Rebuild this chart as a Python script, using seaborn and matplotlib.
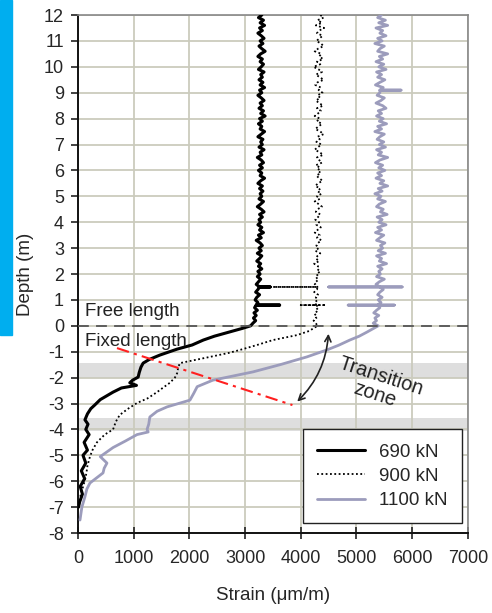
import numpy as np
import pandas as pd
import matplotlib
matplotlib.use('Agg')
import matplotlib.pyplot as plt
import seaborn as sns
from matplotlib.patches import FancyArrowPatch, Rectangle

# Depth sampling for the free length part (12 m down to 0.1 m)
depth_upper = np.round(np.arange(12.0, 0.05, -0.1), 2)

# 690 kN, free length
s690_upper = [3300, 3240, 3330, 3270, 3350, 3260, 3310, 3230, 3290, 3340,
              3270, 3320, 3250, 3300, 3360, 3280, 3230, 3310, 3270, 3330,
              3290, 3240, 3340, 3280, 3310, 3250, 3320, 3270, 3350, 3260,
              3300, 3230, 3290, 3340, 3270, 3310, 3250, 3330, 3280, 3360,
              3260, 3310, 3240, 3300, 3270, 3350, 3290, 3230, 3320, 3280,
              3310, 3250, 3340, 3270, 3300, 3220, 3290, 3330, 3260, 3310,
              3240, 3300, 3270, 3350, 3280, 3230, 3310, 3260, 3320, 3270,
              3300, 3250, 3330, 3280, 3220, 3290, 3340, 3260, 3310, 3250,
              3280, 3230, 3300, 3260, 3330, 3240, 3290, 3200, 3270, 3310,
              3250, 3290, 3220, 3300, 3260, 3210, 3280, 3240, 3300, 3230,
              3270, 3220, 3280, 3240, 3200, 3260, 3230, 3190, 3260, 3210,
              3180, 3230, 3200, 3170, 3220, 3160, 3200, 3150, 3190, 3140]
# sharp horizontal spikes (depth, strain)
s690_spikes = [(1.5, 3450), (0.8, 3620)]
# 690 kN, fixed length
d690_lower = [0, -0.1, -0.25, -0.4, -0.55, -0.74, -0.9, -1.13, -1.3, -1.44, -1.6, -1.8,
              -1.98, -2.1, -2.2, -2.3, -2.4, -2.56, -2.7, -2.85, -3.06, -3.2, -3.4, -3.63,
              -3.8, -4.0, -4.2, -4.5, -4.8, -5.0, -5.3, -5.6, -5.9, -6.2, -6.5, -6.8, -7.0]
s690_lower = [3100, 2950, 2700, 2450, 2250, 2050, 1780, 1470, 1280, 1170, 1130, 1100,
              1080, 980, 930, 1050, 780, 630, 520, 400, 300, 230, 170, 125,
              180, 140, 200, 110, 170, 90, 140, 60, 120, 40, 80, 30, 10]

# 900 kN, free length
s900_upper = [4350, 4410, 4300, 4380, 4270, 4420, 4330, 4290, 4390, 4340,
              4280, 4360, 4410, 4310, 4250, 4370, 4330, 4400, 4290, 4350,
              4230, 4320, 4380, 4270, 4340, 4410, 4300, 4260, 4360, 4320,
              4390, 4300, 4350, 4270, 4330, 4400, 4290, 4360, 4310, 4250,
              4340, 4290, 4380, 4320, 4260, 4350, 4410, 4300, 4340, 4280,
              4370, 4310, 4250, 4340, 4400, 4290, 4330, 4380, 4270, 4350,
              4300, 4360, 4280, 4330, 4390, 4310, 4260, 4350, 4300, 4370,
              4290, 4340, 4250, 4320, 4380, 4300, 4270, 4350, 4310, 4260,
              4330, 4280, 4360, 4300, 4250, 4340, 4290, 4370, 4310, 4280,
              4320, 4260, 4350, 4300, 4270, 4330, 4240, 4310, 4290, 4350,
              4280, 4320, 4260, 4300, 4250, 4300, 4290, 4240, 4310, 4270,
              4300, 4250, 4280, 4320, 4260, 4300, 4240, 4280, 4230, 4270]
s900_spikes = [(1.5, 3500), (0.8, 4000), (0.8, 4450)]
# 900 kN, fixed length
d900_lower = [0, -0.2, -0.36, -0.55, -0.75, -0.93, -1.05, -1.2, -1.44, -1.6, -1.83,
              -2.0, -2.2, -2.4, -2.56, -2.8, -2.98, -3.2, -3.44, -3.7, -4.0, -4.2,
              -4.5, -4.8, -5.05, -5.4, -5.7, -5.95, -6.3, -6.6]
s900_lower = [4300, 4150, 3930, 3500, 3200, 2910, 2700, 2370, 1830, 1800, 1780,
              1740, 1650, 1520, 1420, 1250, 1060, 900, 750, 680, 630, 480,
              340, 260, 215, 170, 150, 125, 80, 40]

# 1100 kN, free length
s1100_upper = [5450, 5380, 5520, 5400, 5560, 5350, 5470, 5420, 5530, 5380,
               5460, 5330, 5500, 5420, 5380, 5560, 5410, 5470, 5350, 5490,
               5400, 5530, 5360, 5450, 5380, 5510, 5420, 5340, 5480, 5420,
               5420, 5370, 5500, 5440, 5350, 5470, 5530, 5390, 5450, 5360,
               5480, 5410, 5540, 5380, 5450, 5330, 5500, 5420, 5370, 5490,
               5410, 5520, 5360, 5450, 5390, 5560, 5420, 5340, 5470, 5400,
               5510, 5380, 5450, 5350, 5490, 5420, 5560, 5390, 5460, 5330,
               5440, 5380, 5520, 5410, 5360, 5480, 5430, 5550, 5370, 5460,
               5400, 5530, 5380, 5450, 5340, 5490, 5420, 5360, 5510, 5430,
               5470, 5390, 5520, 5360, 5450, 5410, 5540, 5380, 5460, 5400,
               5430, 5360, 5500, 5410, 5350, 5420, 5480, 5420, 5380, 5460,
               5390, 5440, 5380, 5420, 5360, 5310, 5400, 5330, 5360, 5300]
s1100_spikes = [(9.1, 5800), (1.5, 4500), (1.5, 5820), (0.8, 4850), (0.8, 5680)]
# 1100 kN, fixed length
d1100_lower = [0, -0.24, -0.4, -0.55, -0.75, -0.93, -1.2, -1.5, -1.78, -2.1, -2.35,
               -2.6, -2.87, -3.13, -3.3, -3.52, -3.8, -4.0, -4.1, -4.2, -4.45, -4.7,
               -5.05, -5.3, -5.5, -5.68, -6.07, -6.3, -6.6, -7.0, -7.5]
s1100_lower = [5390, 5190, 5050, 4880, 4680, 4470, 4110, 3630, 3140, 2420, 2140,
               2080, 2010, 1600, 1420, 1290, 1270, 1240, 1260, 1060, 850, 630,
               400, 520, 470, 450, 215, 160, 125, 70, 36]

loads = ['690 kN', '900 kN', '1100 kN']
colors = ['black', 'black', '#9c9cbc']
widths = [2.2, 1.3, 2.0]
styles = ['-', (0, (1, 1.4)), '-']

# Zone markers
band_1 = (-2.0, -1.45)
band_2 = (-4.05, -3.55)
fixed_line_x = [700, 3850]
fixed_line_y = [-0.86, -3.06]


def build(name, upper, spikes, d_low, s_low):
    rows = []
    for d, s in zip(depth_upper, upper):
        rows.append((d, s))
        for sd, sv in spikes:
            if abs(sd - d) < 1e-6:
                rows.append((d, sv))
                rows.append((d, s))
    rows += list(zip(d_low, s_low))
    out = pd.DataFrame(rows, columns=['Depth', 'Strain'])
    out['Load'] = name
    return out


df = pd.concat([build(loads[0], s690_upper, s690_spikes, d690_lower, s690_lower),
                build(loads[1], s900_upper, s900_spikes, d900_lower, s900_lower),
                build(loads[2], s1100_upper, s1100_spikes, d1100_lower, s1100_lower)],
               ignore_index=True)

sns.set_style('white')
plt.rcParams['font.family'] = ['Liberation Sans', 'DejaVu Sans']
plt.rcParams['axes.unicode_minus'] = False

fig = plt.figure(figsize=(4.92, 6.13), dpi=100)
ax = fig.add_axes([0.1585, 0.1305, 0.7925, 0.845])

# grey bands and grid
ax.axhspan(*band_1, color='#dedede', zorder=0.5, lw=0)
ax.axhspan(*band_2, color='#dedede', zorder=0.5, lw=0)
ax.set_axisbelow(True)
ax.grid(True, color='#cbcbbd', lw=1.3)

for name, c, w, ls in zip(loads, colors, widths, styles):
    sub = df[df['Load'] == name]
    sns.lineplot(data=sub, x='Strain', y='Depth', sort=False, estimator=None,
                 color=c, lw=w, linestyle=ls, label=name, ax=ax, zorder=3)

# free / fixed boundary
ax.axhline(0, color='#555555', lw=1.3, ls=(0, (6, 4)), zorder=4)
ax.plot(fixed_line_x, fixed_line_y, color='#ff2020', lw=1.5,
        ls=(0, (6, 2.5, 1.5, 2.5)), zorder=4)

ax.text(120, 0.55, 'Free length', fontsize=13.5, va='center', ha='left', color='#222222')
ax.text(120, -0.62, 'Fixed length', fontsize=13.5, va='center', ha='left', color='#222222')
ax.text(5380, -2.3, 'Transition\nzone', fontsize=14.5, rotation=-18, ha='center',
        va='center', multialignment='center', rotation_mode='anchor',
        linespacing=1.0, color='#222222')

arrow = FancyArrowPatch((4500, -0.2), (3900, -3.0), arrowstyle='<->', mutation_scale=11,
                        connectionstyle='arc3,rad=-0.2', color='#222222', lw=1.2, zorder=5)
ax.add_patch(arrow)

ax.set_xlim(0, 7000)
ax.set_ylim(-8, 12)
ax.set_xticks(range(0, 7001, 1000))
ax.set_yticks(range(-8, 13, 1))
ax.tick_params(axis='both', labelsize=13, width=1.2, color='#222222',
               left=True, bottom=True)
ax.tick_params(axis='x', direction='inout', length=9, pad=8)
ax.tick_params(axis='y', direction='out', length=5, pad=5)
ax.set_xlabel('Strain (\u03bcm/m)', fontsize=13.5, labelpad=14)
ax.set_ylabel('Depth (m)', fontsize=13.5, labelpad=7)

for side in ['left', 'bottom']:
    ax.spines[side].set_color('#111111')
    ax.spines[side].set_linewidth(1.4)
for side in ['top', 'right']:
    ax.spines[side].set_color('#888888')
    ax.spines[side].set_linewidth(1.2)

leg = ax.legend(loc='lower right', bbox_to_anchor=(0.985, 0.019), borderaxespad=0,
                fontsize=13.5, frameon=True, fancybox=False, edgecolor='#222222',
                handlelength=2.6, handletextpad=0.75, labelspacing=0.38,
                borderpad=0.75, framealpha=1)
leg.get_frame().set_linewidth(1.0)

# blue strip on the left edge
fig.patches.append(Rectangle((0, 1 - 335 / 613), 12 / 492, 335 / 613,
                             transform=fig.transFigure, color='#00aeef', zorder=10))

fig.savefig('out.png', dpi=100)
